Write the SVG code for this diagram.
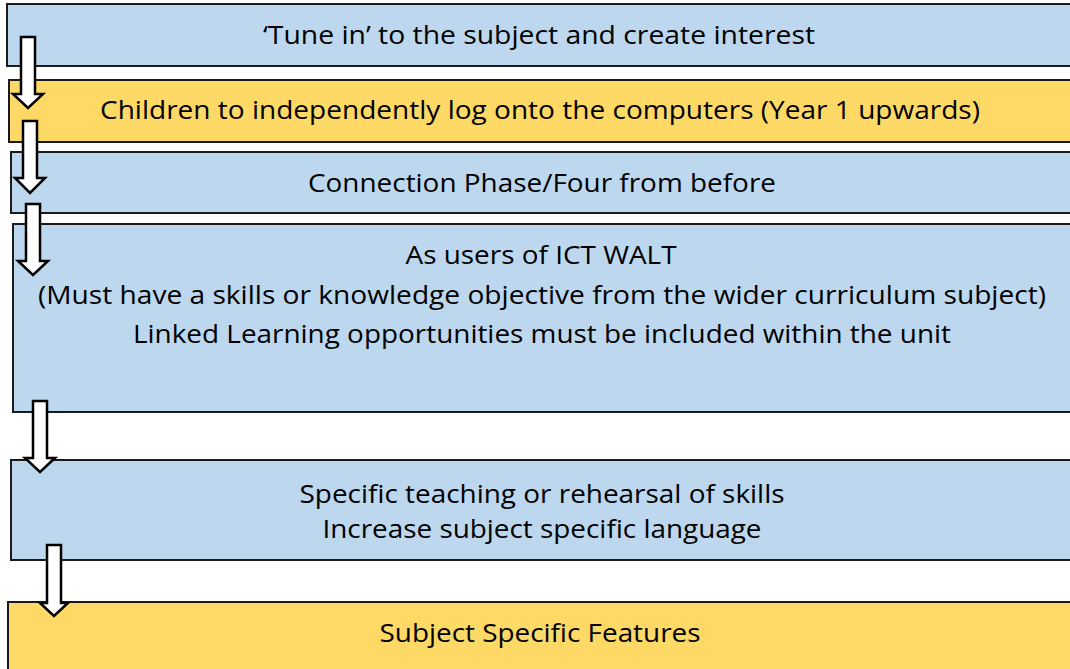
<svg xmlns="http://www.w3.org/2000/svg" width="1070" height="669" viewBox="0 0 1070 669">
<style>
.box{stroke:#1a1a1a;stroke-width:2}
.blue{fill:#BDD7EE}
.yellow{fill:#FFD966}
.t{font-family:"Open Sans","Noto Sans",sans-serif;font-size:26px;fill:#000;text-anchor:middle}
.arrow{fill:#fff;stroke:#000;stroke-width:2.5;stroke-linejoin:miter}
</style>
<rect width="1070" height="669" fill="#fff"/>
<g id="node1"><rect class="box blue" x="7" y="4" width="1080" height="62"/>
<text class="t" x="539" y="44" textLength="552" lengthAdjust="spacingAndGlyphs">‘Tune in’ to the subject and create interest</text></g>
<g id="node2"><rect class="box yellow" x="9" y="80" width="1080" height="62"/>
<text class="t" x="540" y="119" textLength="880" lengthAdjust="spacingAndGlyphs">Children to independently log onto the computers (Year 1 upwards)</text></g>
<g id="node3"><rect class="box blue" x="11" y="152" width="1080" height="61"/>
<text class="t" x="542" y="192" textLength="468" lengthAdjust="spacingAndGlyphs">Connection Phase/Four from before</text></g>
<g id="node4"><rect class="box blue" x="13" y="224" width="1080" height="188"/>
<text class="t" x="541" y="264" textLength="271" lengthAdjust="spacingAndGlyphs">As users of ICT WALT</text>
<text class="t" x="542" y="304" textLength="1008" lengthAdjust="spacingAndGlyphs">(Must have a skills or knowledge objective from the wider curriculum subject)</text>
<text class="t" x="542" y="343" textLength="818" lengthAdjust="spacingAndGlyphs">Linked Learning opportunities must be included within the unit</text></g>
<g id="node5"><rect class="box blue" x="11" y="460" width="1080" height="100"/>
<text class="t" x="542" y="503" textLength="485" lengthAdjust="spacingAndGlyphs">Specific teaching or rehearsal of skills</text>
<text class="t" x="542" y="538" textLength="439" lengthAdjust="spacingAndGlyphs">Increase subject specific language</text></g>
<g id="node6"><rect class="box yellow" x="8" y="602" width="1080" height="80"/>
<text class="t" x="540" y="642" textLength="321" lengthAdjust="spacingAndGlyphs">Subject Specific Features</text></g>
<g id="connectors">
<polygon class="arrow" points="21,37 35,37 35,94 43,94 28,108 13,94 21,94"/>
<polygon class="arrow" points="23,121 37,121 37,178 45,178 30,193 15,178 23,178"/>
<polygon class="arrow" points="26,204 40,204 40,261 48,261 33,275 18,261 26,261"/>
<polygon class="arrow" points="33,401 47,401 47,458 55,458 40,472 25,458 33,458"/>
<polygon class="arrow" points="47,545 61,545 61,603 68,603 54,616 40,603 47,603"/>
</g>
</svg>
